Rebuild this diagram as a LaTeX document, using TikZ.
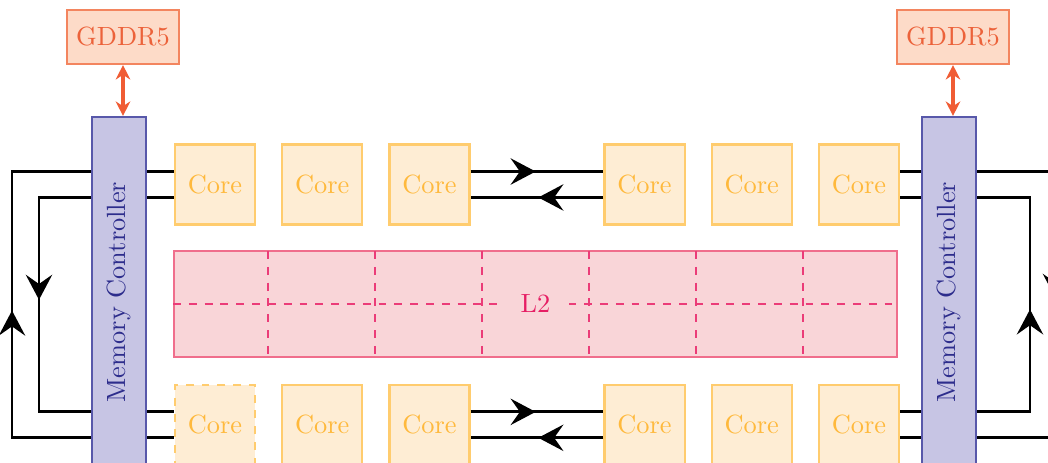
\documentclass[tikz,border=0pt]{standalone}
\usepackage{xcolor}
\usepackage{graphicx}
\usepackage{tikz}
\usetikzlibrary{arrows.meta, positioning, decorations.markings}
\definecolor{gddrfill}{RGB}{253,219,200}
\definecolor{gddrdraw}{RGB}{243,133,95}
\definecolor{gddrtext}{RGB}{236,98,58}
\definecolor{gddrarrow}{RGB}{240,92,52}
\definecolor{mcfill}{RGB}{199,197,228}
\definecolor{mcdraw}{RGB}{88,88,170}
\definecolor{mctext}{RGB}{45,45,140}
\definecolor{corefill}{RGB}{254,237,212}
\definecolor{coredraw}{RGB}{255,204,110}
\definecolor{coretext}{RGB}{255,185,60}
\definecolor{ltwofill}{RGB}{249,213,216}
\definecolor{ltwodraw}{RGB}{240,110,140}
\definecolor{ltwodash}{RGB}{235,60,120}
\definecolor{ltwotext}{RGB}{230,30,100}
\tikzset{
  core/.style={rectangle, draw=coredraw, fill=corefill, text=coretext,
    minimum width=1.067cm, minimum height=1.067cm, line width=0.8pt},
  gddr/.style={rectangle, draw=gddrdraw, fill=gddrfill, text=gddrtext,
    minimum width=1.493cm, minimum height=0.72cm, line width=0.8pt},
  memctrl/.style={rectangle, draw=mcdraw, fill=mcfill, text=mctext,
    minimum width=0.72cm, minimum height=4.667cm, line width=0.8pt},
  ltwo/.style={rectangle, draw=ltwodraw, fill=ltwofill,
    minimum width=9.64cm, minimum height=1.413cm, line width=0.8pt},
  ltwogrid/.style={dashed, color=ltwodash, line width=0.5pt},
  wire/.style={line width=1.1pt, color=black},
  ring/.style={wire, postaction={decorate}, decoration={markings,
    mark=at position 0.49 with {\arrow{Stealth[length=9.5pt, width=10pt, inset=3.5pt]}}}},
  memarrow/.style={{Stealth[length=5.5pt, width=5.5pt]}-{Stealth[length=5.5pt, width=5.5pt]},
    line width=1.3pt, color=gddrarrow}
}

\begin{document}
\begin{tikzpicture}[x=0.013333cm, y=-0.013333cm, node distance=0.335cm and 0.335cm]
  \useasboundingbox (0,0) rectangle (1048,463);
  \clip (0,0) rectangle (1048,463);

  % cores, top row
  \node[core] (c1) at (215,184.5) {Core};
  \node[core, right=of c1] (c2) {Core};
  \node[core, right=of c2] (c3) {Core};
  \node[core, right=1.773cm of c3] (c4) {Core};
  \node[core, right=of c4] (c5) {Core};
  \node[core, right=of c5] (c6) {Core};
  % cores, bottom row
  \node[core, dashed, below=2.11cm of c1] (b1) {Core};
  \node[core, below=2.11cm of c2] (b2) {Core};
  \node[core, below=2.11cm of c3] (b3) {Core};
  \node[core, below=2.11cm of c4] (b4) {Core};
  \node[core, below=2.11cm of c5] (b5) {Core};
  \node[core, below=2.11cm of c6] (b6) {Core};

  % shared L2
  \node[ltwo] (l2) at (535.5,304) {};
  \foreach \x in {268,375,482,589,696,803}
    \draw[ltwogrid] (\x,251) -- (\x,357);
  \draw[ltwogrid] (l2.west) -- (l2.east);
  \node[fill=ltwofill, text=ltwotext, inner xsep=7pt] (l2lbl) at (l2.center) {L2};

  % ring ends
  \coordinate (c1hi) at ([yshift=0.173cm]c1.west);
  \coordinate (c1lo) at ([yshift=-0.173cm]c1.west);
  \coordinate (b1hi) at ([yshift=0.173cm]b1.west);
  \coordinate (b1lo) at ([yshift=-0.173cm]b1.west);
  \coordinate (c3hi) at ([yshift=0.173cm]c3.east);
  \coordinate (c3lo) at ([yshift=-0.173cm]c3.east);
  \coordinate (c4hi) at ([yshift=0.173cm]c4.west);
  \coordinate (c4lo) at ([yshift=-0.173cm]c4.west);
  \coordinate (b3hi) at ([yshift=0.173cm]b3.east);
  \coordinate (b3lo) at ([yshift=-0.173cm]b3.east);
  \coordinate (b4hi) at ([yshift=0.173cm]b4.west);
  \coordinate (b4lo) at ([yshift=-0.173cm]b4.west);
  \coordinate (c6hi) at ([yshift=0.173cm]c6.east);
  \coordinate (c6lo) at ([yshift=-0.173cm]c6.east);
  \coordinate (b6hi) at ([yshift=0.173cm]b6.east);
  \coordinate (b6lo) at ([yshift=-0.173cm]b6.east);
  \coordinate (oL) at (12,0);
  \coordinate (iL) at (39,0);
  \coordinate (iR) at (1030,0);
  \coordinate (oR) at (1056,0);

  % rings
  \draw[ring] (c3hi) -- (c4hi);
  \draw[ring] (c4lo) -- (c3lo);
  \draw[ring] (b3hi) -- (b4hi);
  \draw[ring] (b4lo) -- (b3lo);
  \draw[ring] (b1lo) -- (b1lo -| oL) |- (c1hi);
  \draw[ring] (c1lo) -- (c1lo -| iL) |- (b1hi);
  \draw[ring] (b6hi) -- (b6hi -| iR) |- (c6lo);
  \draw[ring] (c6hi) -- (c6hi -| oR) |- (b6lo);

  % memory controllers and GDDR5
  \node[memctrl] (mcL) at (119,292) {\rotatebox{90}{Memory Controller}};
  \node[memctrl] (mcR) at (949,292) {\rotatebox{90}{Memory Controller}};
  \node[gddr] (gddrL) at (123,37) {GDDR5};
  \node[gddr] (gddrR) at (953,37) {GDDR5};

  \draw[memarrow] (gddrL.south) -- (gddrL.south |- mcL.north);
  \draw[memarrow] (gddrR.south) -- (gddrR.south |- mcR.north);
\end{tikzpicture}
\end{document}
